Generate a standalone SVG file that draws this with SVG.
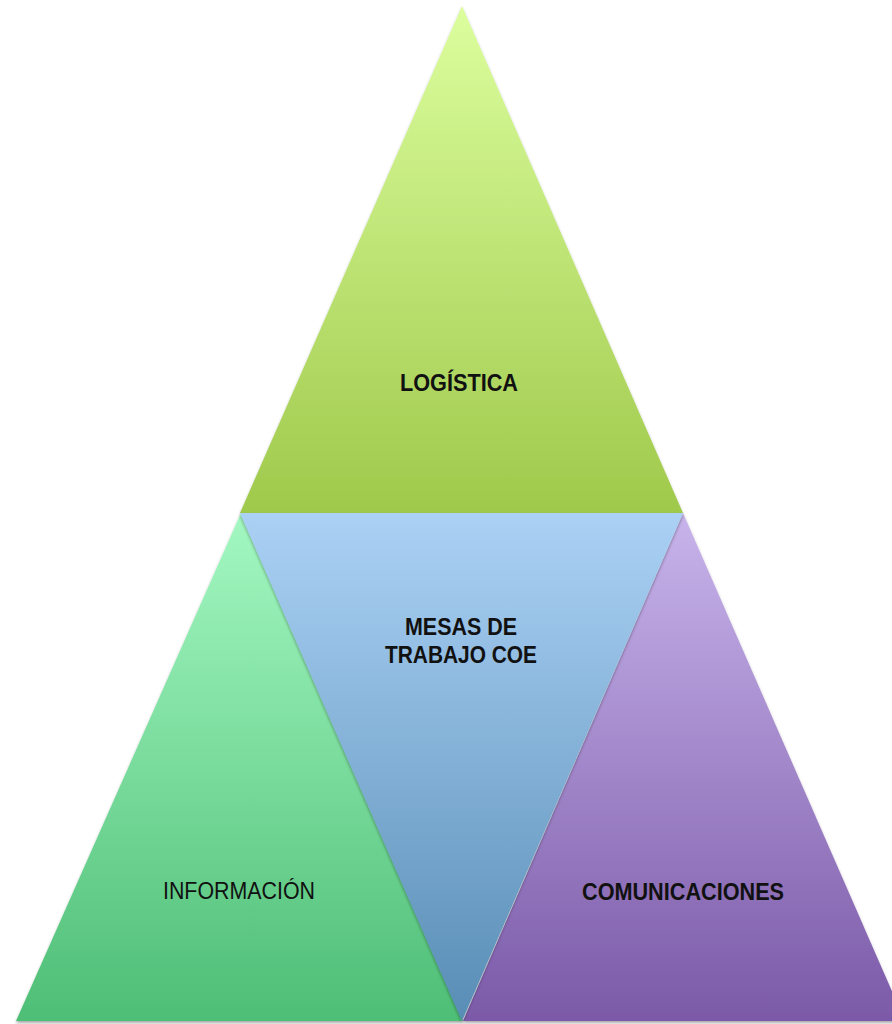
<svg xmlns="http://www.w3.org/2000/svg" width="892" height="1024" viewBox="0 0 892 1024">
<defs>
<linearGradient id="gTop" x1="0" y1="0" x2="0" y2="1"><stop offset="0" stop-color="#dcfe9e"/><stop offset="1" stop-color="#9fc94b"/></linearGradient>
<linearGradient id="gMid" x1="0" y1="0" x2="0" y2="1"><stop offset="0" stop-color="#abd1f5"/><stop offset="1" stop-color="#588db5"/></linearGradient>
<linearGradient id="gLeft" x1="0" y1="0" x2="0" y2="1"><stop offset="0" stop-color="#a4f8c2"/><stop offset="1" stop-color="#4ebe76"/></linearGradient>
<linearGradient id="gRight" x1="0" y1="0" x2="0" y2="1"><stop offset="0" stop-color="#c8b4eb"/><stop offset="1" stop-color="#7b59a8"/></linearGradient>
<filter id="sh" x="-10%" y="-10%" width="120%" height="120%"><feDropShadow dx="0" dy="2" stdDeviation="1.5" flood-color="#000" flood-opacity="0.35"/></filter>
</defs>
<style>
text{font-family:"Liberation Sans",Arial,sans-serif;fill:#111;text-anchor:middle;font-size:23px}
.b{font-weight:bold}
</style>
<rect width="892" height="1024" fill="#fff"/>
<g id="logistica">
<polygon points="462,6 683,513 240,513" fill="url(#gTop)" filter="url(#sh)"/>
<text class="b" x="459" y="391" textLength="118" lengthAdjust="spacingAndGlyphs">LOGÍSTICA</text>
</g>
<g id="informacion">
<polygon points="241,513 463,1021 16,1021" fill="url(#gLeft)" filter="url(#sh)"/>
<text x="239" y="899" textLength="152" lengthAdjust="spacingAndGlyphs">INFORMACIÓN</text>
</g>
<g id="comunicaciones">
<polygon points="683,513 905,1021 463,1021" fill="url(#gRight)" filter="url(#sh)"/>
<text class="b" x="683" y="900" textLength="202" lengthAdjust="spacingAndGlyphs">COMUNICACIONES</text>
</g>
<g id="mesas">
<polygon points="240,513 683,513 462,1021" fill="url(#gMid)" filter="url(#sh)"/>
<text class="b" x="461" y="635" textLength="112" lengthAdjust="spacingAndGlyphs">MESAS DE</text>
<text class="b" x="461" y="663" textLength="152" lengthAdjust="spacingAndGlyphs">TRABAJO COE</text>
</g>
<g id="connectors"/>
</svg>
